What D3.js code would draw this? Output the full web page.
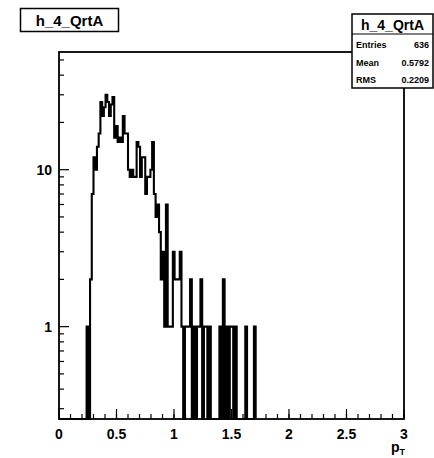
<!DOCTYPE html>
<html>
<head>
<meta charset="utf-8">
<script src="https://cdn.jsdelivr.net/npm/d3@7"></script>
<style>
  html, body { margin: 0; padding: 0; background: #fff; }
  svg { display: block; }
  text { font-family: "Liberation Sans", Arial, Helvetica, sans-serif; font-weight: bold; fill: #000; }
</style>
</head>
<body>
<svg id="c" width="434" height="458"></svg>
<script>
// ---- data ----
const histName = "h_4_QrtA";
const xMin = 0, xMax = 3, binWidth = 0.015;
// counts per bin starting at x = 0 (bins of 0.015), zeros after the last listed bin
const counts = [
  0,0,0,0,0,0,0,0,0,0,0,0,0,0,0,0,
  1,0,2,7,12,10,14,17,27,22,25,30,27,22,26,29,
  16,19,15,16,15,22,17,17,10,9,10,9,9,15,14,9,
  12,12,7,9,9,10,15,7,5,6,4,2,3,1,6,1,
  1,1,3,2,2,2,3,1,0,1,1,1,2,0,1,0,
  1,1,2,0,1,1,0,1,0,0,0,0,0,1,0,2,
  0,1,0,1,1,0,1,0,0,0,0,0,1,0,0,0,
  0,1
];
const statsLabels = ["Entries", "Mean", "RMS"];
const statsValues = ["636", "0.5792", "0.2209"];
const xTickLabels = ["0", "0.5", "1", "1.5", "2", "2.5", "3"];
const yTickLabels = ["1", "10"];
const yDomain = [0.258, 56.2];

// ---- layout ----
const svg = d3.select("#c");
const L = 59, R = 404, T = 52, B = 419;
const x = d3.scaleLinear().domain([xMin, xMax]).range([L, R]);
const y = d3.scaleLog().domain(yDomain).range([B, T]);

// histogram outline
const pts = [[x(xMin), B]];
counts.forEach((c, i) => {
  const yy = c > 0 ? y(c) : B;
  pts.push([x(i * binWidth), yy]);
  pts.push([x((i + 1) * binWidth), yy]);
});
pts.push([x(counts.length * binWidth), B]);
svg.append("path")
  .attr("d", d3.line()(pts))
  .attr("fill", "none")
  .attr("stroke", "#000")
  .attr("stroke-width", 2.1)
  .attr("stroke-linejoin", "miter");

// frame
svg.append("rect").attr("x", L).attr("y", T).attr("width", R - L).attr("height", B - T)
  .attr("fill", "none").attr("stroke", "#000").attr("stroke-width", 1.8);

// x ticks
const xMajor = d3.range(0, 3.0001, 0.5);
const xMinor = d3.range(0, 3.0001, 0.1);
svg.append("g").selectAll("line").data(xMinor).join("line")
  .attr("x1", d => x(d)).attr("x2", d => x(d))
  .attr("y1", B).attr("y2", B - 5).attr("stroke", "#000").attr("stroke-width", 1.2);
svg.append("g").selectAll("line").data(xMajor).join("line")
  .attr("x1", d => x(d)).attr("x2", d => x(d))
  .attr("y1", B).attr("y2", B - 10).attr("stroke", "#000").attr("stroke-width", 1.2);
svg.append("g").selectAll("text").data(xMajor).join("text")
  .attr("x", d => x(d)).attr("y", 439)
  .attr("text-anchor", "middle").attr("font-size", 14)
  .text((d, i) => xTickLabels[i]);

// y ticks (log)
const yMajor = [1, 10];
const yMinor = [0.3,0.4,0.5,0.6,0.7,0.8,0.9,2,3,4,5,6,7,8,9,20,30,40,50];
svg.append("g").selectAll("line").data(yMinor).join("line")
  .attr("x1", L).attr("x2", L + 5)
  .attr("y1", d => y(d)).attr("y2", d => y(d)).attr("stroke", "#000").attr("stroke-width", 1.2);
svg.append("g").selectAll("line").data(yMajor).join("line")
  .attr("x1", L).attr("x2", L + 10)
  .attr("y1", d => y(d)).attr("y2", d => y(d)).attr("stroke", "#000").attr("stroke-width", 1.2);
svg.append("g").selectAll("text").data(yMajor).join("text")
  .attr("x", 52).attr("y", d => y(d) + 5)
  .attr("text-anchor", "end").attr("font-size", 14)
  .text((d, i) => yTickLabels[i]);

// x axis title
const xt = svg.append("text").attr("x", 405).attr("y", 452).attr("text-anchor", "end").attr("font-size", 14);
xt.append("tspan").text("p");
xt.append("tspan").attr("font-size", 9).attr("dy", 3).text("T");

// title box
svg.append("rect").attr("x", 20.5).attr("y", 8.5).attr("width", 98).attr("height", 23)
  .attr("fill", "#fff").attr("stroke", "#000").attr("stroke-width", 1.5);
svg.append("text").attr("x", 69.5).attr("y", 26).attr("text-anchor", "middle")
  .attr("font-size", 15).text(histName);

// stats box
const sx = 352, sy = 14, sw = 81, sh = 74;
svg.append("rect").attr("x", sx).attr("y", sy).attr("width", sw).attr("height", sh)
  .attr("fill", "#fff").attr("stroke", "#000").attr("stroke-width", 1.5);
svg.append("line").attr("x1", sx).attr("x2", sx + sw).attr("y1", 34).attr("y2", 34)
  .attr("stroke", "#000").attr("stroke-width", 1.2);
svg.append("text").attr("x", sx + sw / 2).attr("y", 29.5).attr("text-anchor", "middle")
  .attr("font-size", 14).text(histName);
const rowY = [47.5, 65.5, 83];
statsLabels.forEach((lab, i) => {
  svg.append("text").attr("x", sx + 4).attr("y", rowY[i]).attr("font-size", 9).text(lab);
  svg.append("text").attr("x", sx + sw - 4).attr("y", rowY[i]).attr("text-anchor", "end")
    .attr("font-size", 9).text(statsValues[i]);
});
</script>
</body>
</html>
